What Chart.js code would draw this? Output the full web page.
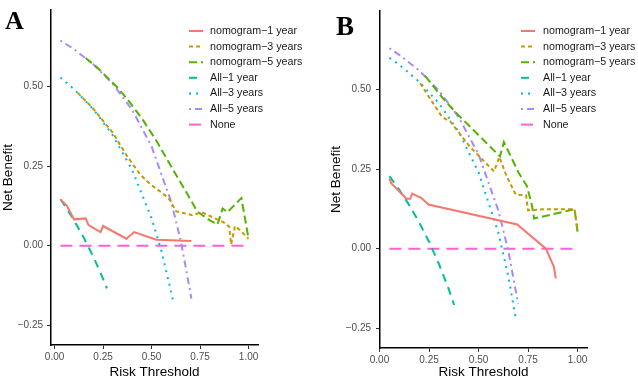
<!DOCTYPE html>
<html>
<head>
<meta charset="utf-8">
<script src="https://cdn.jsdelivr.net/npm/chart.js@4.4.1/dist/chart.umd.min.js"></script>
<style>
  body { margin: 0; background: #fff; }
  .panel { position: absolute; top: 0; height: 380px; }
  #panelA { left: 0; width: 318px; }
  #panelB { left: 318px; width: 320px; }
</style>
</head>
<body>
<div class="panel" id="panelA"><canvas id="chartA" width="318" height="380"></canvas></div>
<div class="panel" id="panelB"><canvas id="chartB" width="320" height="380"></canvas></div>
<script>
// series names / styles (ggplot default hue palette)
const seriesLabels = ['nomogram−1 year', 'nomogram−3 years', 'nomogram−5 years', 'All−1 year', 'All−3 years', 'All−5 years', 'None'];
const seriesColors = ['#F8766D', '#C49A00', '#53B400', '#00C094', '#00B6EB', '#A58AFF', '#FB61D7'];
const seriesDash = [[], [4, 3], [8, 4], [8, 6], [2, 5], [2, 4, 7, 4], [12, 7]];

const xTicks = [0, 0.25, 0.5, 0.75, 1];
const yTicks = [-0.25, 0, 0.25, 0.5];

// Panel A - thresholds / net benefit
const aNom1X = [0.03, 0.062, 0.10, 0.16, 0.175, 0.237, 0.25, 0.37, 0.41, 0.525, 0.705];
const aNom1Y = [0.145, 0.127, 0.083, 0.086, 0.065, 0.043, 0.062, 0.022, 0.043, 0.019, 0.015];
const aNom3X = [0.12, 0.2, 0.3, 0.37, 0.44, 0.49, 0.567, 0.593, 0.627, 0.71, 0.76, 0.87, 0.9, 0.91, 0.93, 0.95, 1.0];
const aNom3Y = [0.48, 0.43, 0.355, 0.285, 0.225, 0.195, 0.16, 0.145, 0.108, 0.096, 0.105, 0.074, 0.06, 0.004, 0.062, 0.052, 0.022];
const aNom5X = [0.16, 0.22, 0.27, 0.32, 0.376, 0.45, 0.525, 0.6, 0.68, 0.735, 0.8, 0.84, 0.866, 0.89, 0.963, 1.0];
const aNom5Y = [0.59, 0.56, 0.53, 0.50, 0.46, 0.40, 0.33, 0.25, 0.167, 0.108, 0.08, 0.067, 0.117, 0.105, 0.15, 0.022];
const aAll1X = [0.03, 0.05, 0.1, 0.15, 0.2, 0.25, 0.27];
const aAll1Y = [0.146, 0.128, 0.08, 0.026, -0.035, -0.104, -0.134];
const aAll3X = [0.03, 0.1, 0.2, 0.3, 0.4, 0.5, 0.55, 0.6, 0.61];
const aAll3Y = [0.529, 0.492, 0.429, 0.347, 0.238, 0.086, -0.015, -0.143, -0.172];
const aAll5X = [0.03, 0.1, 0.2, 0.3, 0.4, 0.5, 0.6, 0.65, 0.7, 0.705];
const aAll5Y = [0.645, 0.618, 0.570, 0.509, 0.427, 0.312, 0.140, 0.017, -0.147, -0.166];
const aNoneX = [0.03, 1.0];
const aNoneY = [0, 0];

// Panel B
const bNom1X = [0.05, 0.06, 0.136, 0.155, 0.165, 0.21, 0.247, 0.695, 0.84, 0.88, 0.89];
const bNom1Y = [0.22, 0.205, 0.157, 0.157, 0.173, 0.16, 0.139, 0.076, 0.0, -0.056, -0.093];
const bNom3X = [0.206, 0.241, 0.317, 0.357, 0.457, 0.52, 0.578, 0.605, 0.64, 0.688, 0.74, 0.75, 0.83, 0.985, 1.0];
const bNom3Y = [0.52, 0.485, 0.413, 0.40, 0.32, 0.28, 0.243, 0.288, 0.23, 0.17, 0.168, 0.12, 0.124, 0.124, 0.055];
const bNom5X = [0.23, 0.317, 0.377, 0.45, 0.55, 0.608, 0.628, 0.703, 0.744, 0.77, 0.78, 0.985, 1.0];
const bNom5Y = [0.543, 0.475, 0.433, 0.388, 0.326, 0.29, 0.335, 0.238, 0.197, 0.135, 0.095, 0.124, 0.052];
const bAll1X = [0.05, 0.1, 0.15, 0.2, 0.25, 0.3, 0.35, 0.377];
const bAll1Y = [0.228, 0.185, 0.137, 0.083, 0.022, -0.048, -0.128, -0.177];
const bAll3X = [0.05, 0.1, 0.2, 0.3, 0.4, 0.5, 0.6, 0.65, 0.69];
const bAll3Y = [0.600, 0.578, 0.525, 0.457, 0.367, 0.24, 0.05, -0.086, -0.226];
const bAll5X = [0.05, 0.1, 0.2, 0.3, 0.4, 0.5, 0.6, 0.65, 0.7];
const bAll5Y = [0.63, 0.609, 0.560, 0.497, 0.413, 0.296, 0.120, -0.006, -0.173];
const bNoneX = [0.05, 1.0];
const bNoneY = [0, 0];

const sans = 'Liberation Sans, Arial, sans-serif';

function toPts(xs, ys) {
    return xs.map((x, i) => ({x: x, y: ys[i]}));
}

function makeSets(list) {
    return list.map((s, i) => ({
        label: seriesLabels[i],
        data: toPts(s[0], s[1]),
        borderColor: seriesColors[i],
        backgroundColor: seriesColors[i],
        borderDash: seriesDash[i],
        borderWidth: 2,
        pointRadius: 0,
        tension: 0,
        fill: false
    }));
}

function fmt(v) {
    return (v < 0 ? '−' : '') + Math.abs(v).toFixed(2);
}

// legend + panel letter drawn over the plot like the ggplot inside legend
const dcaLegend = {
    id: 'dcaLegend',
    afterDraw(chart, args, opts) {
        const ctx = chart.ctx;
        ctx.save();
        chart.data.datasets.forEach((ds, i) => {
            const y = opts.top + i * opts.row;
            ctx.strokeStyle = ds.borderColor;
            ctx.lineWidth = 2;
            ctx.setLineDash(ds.borderDash);
            ctx.beginPath();
            ctx.moveTo(opts.left, y);
            ctx.lineTo(opts.left + opts.len, y);
            ctx.stroke();
            ctx.setLineDash([]);
            ctx.fillStyle = '#1a1a1a';
            ctx.font = '10.7px ' + sans;
            ctx.textBaseline = 'middle';
            ctx.fillText(ds.label, opts.textX, y);
        });
        ctx.fillStyle = '#000';
        ctx.font = 'bold ' + opts.tagSize + 'px "Liberation Serif", "Times New Roman", serif';
        ctx.textBaseline = 'alphabetic';
        ctx.fillText(opts.tag, opts.tagX, opts.tagY);
        ctx.restore();
    }
};

function buildChart(id, sets, c) {
    new Chart(document.getElementById(id), {
        type: 'line',
        data: {datasets: makeSets(sets)},
        options: {
            responsive: false,
            animation: false,
            layout: {padding: {top: c.padTop, right: c.padRight, left: 0, bottom: 0}},
            scales: {
                x: {
                    type: 'linear',
                    min: c.xMin,
                    max: c.xMax,
                    afterBuildTicks: s => { s.ticks = xTicks.map(v => ({value: v})); },
                    afterFit: s => { s.height = c.xH; },
                    grid: {drawOnChartArea: false, drawTicks: true, tickLength: 4, color: '#333'},
                    border: {display: true, color: '#000', width: 1.5},
                    ticks: {autoSkip: false, maxRotation: 0, padding: 2, color: '#4d4d4d',
                        font: {family: sans, size: 10}, callback: v => fmt(v)},
                    title: {display: true, text: 'Risk Threshold', color: '#000',
                        font: {family: sans, size: 13.5}, padding: {top: 0, bottom: 0}}
                },
                y: {
                    type: 'linear',
                    min: c.yMin,
                    max: c.yMax,
                    afterBuildTicks: s => { s.ticks = yTicks.map(v => ({value: v})); },
                    afterFit: s => { s.width = c.yW; },
                    grid: {drawOnChartArea: false, drawTicks: true, tickLength: 4, color: '#333'},
                    border: {display: true, color: '#000', width: 1.5},
                    ticks: {autoSkip: false, padding: c.yTickPad, color: '#4d4d4d',
                        font: {family: sans, size: 10}, callback: v => fmt(v)},
                    title: {display: true, text: 'Net Benefit', color: '#000',
                        font: {family: sans, size: 13.5}, padding: {top: c.yTitlePad, bottom: 0}}
                }
            },
            plugins: {
                legend: {display: false},
                tooltip: {enabled: false},
                dcaLegend: c.legend
            }
        },
        plugins: [dcaLegend]
    });
}

buildChart('chartA', [
    [aNom1X, aNom1Y], [aNom3X, aNom3Y], [aNom5X, aNom5Y],
    [aAll1X, aAll1Y], [aAll3X, aAll3Y], [aAll5X, aAll5Y], [aNoneX, aNoneY]
], {
    xMin: -0.0185, xMax: 1.0485, yMin: -0.312, yMax: 0.741,
    padTop: 4, padRight: 60, xH: 35, yW: 51, yTickPad: 4, yTitlePad: 0,
    legend: {left: 189, len: 14, textX: 210, top: 31, row: 15.6,
        tag: 'A', tagX: 5, tagY: 29, tagSize: 26}
});

buildChart('chartB', [
    [bNom1X, bNom1Y], [bNom3X, bNom3Y], [bNom5X, bNom5Y],
    [bAll1X, bAll1Y], [bAll3X, bAll3Y], [bAll5X, bAll5Y], [bNoneX, bNoneY]
], {
    xMin: 0.0025, xMax: 1.0475, yMin: -0.312, yMax: 0.747,
    padTop: 5, padRight: 51, xH: 32, yW: 62, yTickPad: 5, yTitlePad: 10,
    legend: {left: 203, len: 14, textX: 225, top: 31, row: 15.6,
        tag: 'B', tagX: 18, tagY: 35, tagSize: 27}
});
</script>
</body>
</html>
